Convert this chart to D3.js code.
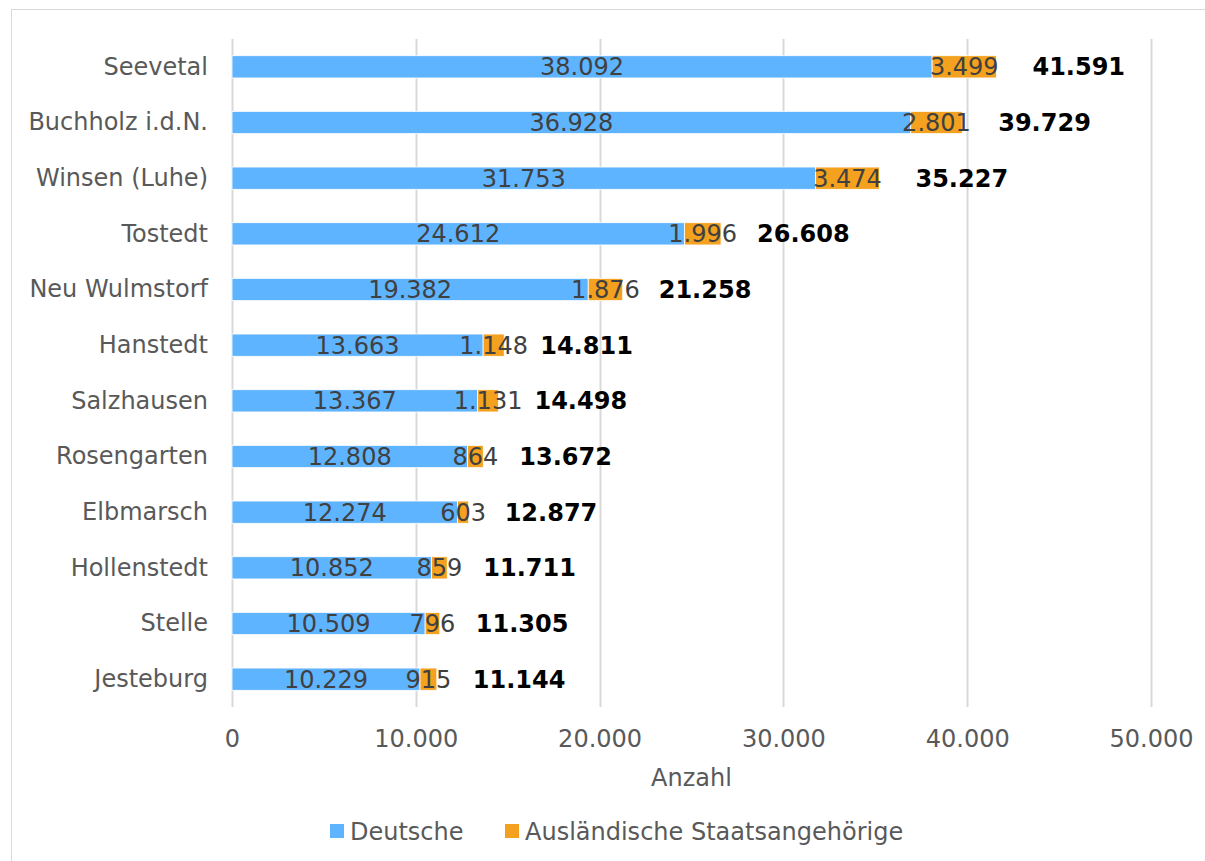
<!DOCTYPE html>
<html>
<head>
<meta charset="utf-8">
<script src="https://cdn.jsdelivr.net/npm/d3@7"></script>
<style>
  body { margin: 0; background: #fff; }
  text { font-family: Verdana, "DejaVu Sans", sans-serif; }
</style>
</head>
<body>
<div id="chart-area"></div>
<script>
// Data
// ****
const gemeinden = ["Seevetal", "Buchholz i.d.N.", "Winsen (Luhe)", "Tostedt", "Neu Wulmstorf",
  "Hanstedt", "Salzhausen", "Rosengarten", "Elbmarsch", "Hollenstedt", "Stelle", "Jesteburg"]
const deutsche = [38092, 36928, 31753, 24612, 19382, 13663, 13367, 12808, 12274, 10852, 10509, 10229]
const auslaender = [3499, 2801, 3474, 1996, 1876, 1148, 1131, 864, 603, 859, 796, 915]
const gesamt = [41591, 39729, 35227, 26608, 21258, 14811, 14498, 13672, 12877, 11711, 11305, 11144]
const xTicks = [0, 10000, 20000, 30000, 40000, 50000]
const seriesNames = ["Deutsche", "Ausländische Staatsangehörige"]
const colors = ["#5fb4ff", "#f4a11f"]

// Config
// ******
const width = 1205, height = 861
const margin = {top: 39, right: 54, bottom: 154, left: 232}
const innerW = width - margin.left - margin.right
const innerH = height - margin.top - margin.bottom
const fontSize = "24px"
const fmt = d3.format(",.0f")
const de = v => fmt(v).replace(/,/g, ".")

const svg = d3.select("#chart-area")
  .append("svg")
    .attr("width", width)
    .attr("height", height)

// outer frame (cut off right and bottom)
svg.append("rect")
  .attr("x", 11.5).attr("y", 9.5)
  .attr("width", width).attr("height", height)
  .attr("fill", "none").attr("stroke", "#d9d9d9")

const g = svg.append("g")
  .attr("transform", "translate(" + margin.left + ", " + margin.top + ")")

const x = d3.scaleLinear().domain([0, 50000]).range([0, innerW])
const y = d3.scaleBand().domain(gemeinden).range([0, innerH]).paddingInner(0.6).paddingOuter(0.3)

// Grid
g.selectAll(".grid").data(xTicks).enter().append("line")
  .attr("class", "grid")
  .attr("x1", d => Math.round(x(d)) + 0.5).attr("x2", d => Math.round(x(d)) + 0.5)
  .attr("y1", 0).attr("y2", innerH)
  .attr("stroke", "#d9d9d9").attr("stroke-width", 2)

// Stack
const rows = gemeinden.map((name, i) => ({name: name, d: deutsche[i], a: auslaender[i], t: gesamt[i]}))
const stack = d3.stack().keys(["d", "a"])(rows)

const layers = g.selectAll(".layer").data(stack).enter().append("g")
  .attr("class", "layer")
  .attr("fill", (s, i) => colors[i])

layers.selectAll("rect").data(s => s).enter().append("rect")
  .attr("x", d => x(d[0]))
  .attr("y", d => y(d.data.name))
  .attr("width", d => x(d[1]) - x(d[0]))
  .attr("height", y.bandwidth())
  .attr("stroke", "#fff").attr("stroke-width", 0.8)

// Segment labels
layers.selectAll("text").data(s => s).enter().append("text")
  .attr("x", d => (x(d[0]) + x(d[1])) / 2)
  .attr("y", d => y(d.data.name) + y.bandwidth() / 2)
  .attr("dy", "0.36em")
  .attr("text-anchor", "middle")
  .attr("font-size", fontSize)
  .attr("fill", "#404040")
  .text(d => de(d[1] - d[0]))

// Totals
g.selectAll(".total").data(rows).enter().append("text")
  .attr("class", "total")
  .attr("x", d => x(d.t) + 36)
  .attr("y", d => y(d.name) + y.bandwidth() / 2)
  .attr("dy", "0.36em")
  .attr("font-size", fontSize)
  .attr("font-weight", "bold")
  .attr("fill", "#000")
  .text(d => de(d.t))

// Y Axis
const yAxis = g.append("g").call(d3.axisLeft(y).tickSize(0).tickPadding(24))
yAxis.select(".domain").remove()
yAxis.selectAll("text")
  .attr("font-size", fontSize).attr("fill", "#595959")
  .style("font-family", "Verdana, 'DejaVu Sans', sans-serif")

// X Axis
const xAxis = g.append("g")
  .attr("transform", "translate(0, " + innerH + ")")
  .call(d3.axisBottom(x).tickValues(xTicks).tickSize(0).tickPadding(23).tickFormat(de))
xAxis.select(".domain").remove()
xAxis.selectAll("text")
  .attr("font-size", fontSize).attr("fill", "#595959")
  .style("font-family", "Verdana, 'DejaVu Sans', sans-serif")

// Axis title
g.append("text")
  .attr("x", innerW / 2 - 0)
  .attr("y", innerH + 79)
  .attr("text-anchor", "middle")
  .attr("font-size", fontSize).attr("fill", "#595959")
  .text("Anzahl")

// Legend
const legend = svg.append("g").attr("transform", "translate(330, 831)")
const legX = [0, 175]
seriesNames.forEach((name, i) => {
  const item = legend.append("g").attr("transform", "translate(" + legX[i] + ", 0)")
  item.append("rect").attr("x", 0).attr("y", -7).attr("width", 14).attr("height", 14).attr("fill", colors[i])
  item.append("text").attr("x", 20).attr("dy", "0.36em")
    .attr("font-size", fontSize).attr("fill", "#595959").text(name)
})
</script>
</body>
</html>
